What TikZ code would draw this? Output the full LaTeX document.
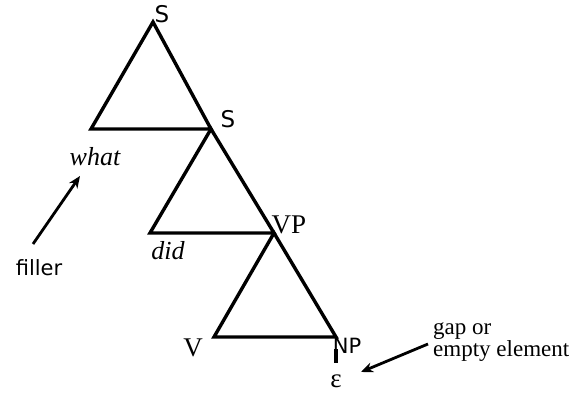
\documentclass[tikz,border=0pt]{standalone}
\usepackage{fontspec}
\setmainfont{Liberation Serif}
\newfontfamily\catsans{DejaVu Sans}
\usetikzlibrary{arrows.meta,positioning}

\begin{document}
\begin{tikzpicture}[x=1pt,y=-1pt,
  tri/.style={line width=3.4pt, line join=miter},
  cat/.style={font=\fontsize{27}{29}\selectfont, inner sep=0pt},
  catsf/.style={font=\catsans\fontsize{23}{25}\selectfont, inner sep=0pt},
  word/.style={font=\itshape\fontsize{26}{28}\selectfont, inner sep=0pt},
  note/.style={font=\fontsize{23}{22}\selectfont, inner sep=0pt, align=left},
  arr/.style={-{Stealth[length=12pt,width=10pt]}, line width=2.8pt}
]
\useasboundingbox (0,0) rectangle (576,404);

% corners of the three triangles
\coordinate (top) at (153,22);
\coordinate (whatL) at (91,129);
\coordinate (sR) at (211,129);
\coordinate (didL) at (150,233);
\coordinate (vpR) at (274,233);
\coordinate (vL) at (214,337);
\coordinate (npR) at (336,337);

\draw[tri] (top) -- (whatL) -- (sR) -- cycle;
\draw[tri] (sR) -- (didL) -- (vpR) -- cycle;
\draw[tri] (vpR) -- (vL) -- (npR) -- cycle;

% labels
\node[catsf] (s1) at (162,14) {S};
\node[catsf] (s2) at (228,119) {S};
\node[cat] (vp) at (289,225) {VP};
\node[cat] (v) at (193,348) {V};
\node[catsf, font=\catsans\fontsize{21}{23}\selectfont] (np) at (347,346) {NP};
\node[word] (what) at (95,157) {what};
\node[word] (did) at (168,251) {did};
\node[catsf, font=\catsans\fontsize{21}{23}\selectfont] (filler) at (39,268) {filler};
\node[cat] (eps) at (336,381) {ε};
\node[note, anchor=west] (gap) at (433,342) {gap or\\empty element};

% empty element and arrows
\coordinate (epsTop) at (336,349);
\coordinate (epsBot) at (336,363);
\draw[line width=3.4pt] (epsTop) -- (epsBot);

\coordinate (fillerTail) at (33,244);
\coordinate (fillerTip) at (80,176);
\coordinate (gapTail) at (428,344);
\coordinate (gapTip) at (361,372);
\draw[arr] (fillerTail) -- (fillerTip);
\draw[arr] (gapTail) -- (gapTip);
\end{tikzpicture}
\end{document}
